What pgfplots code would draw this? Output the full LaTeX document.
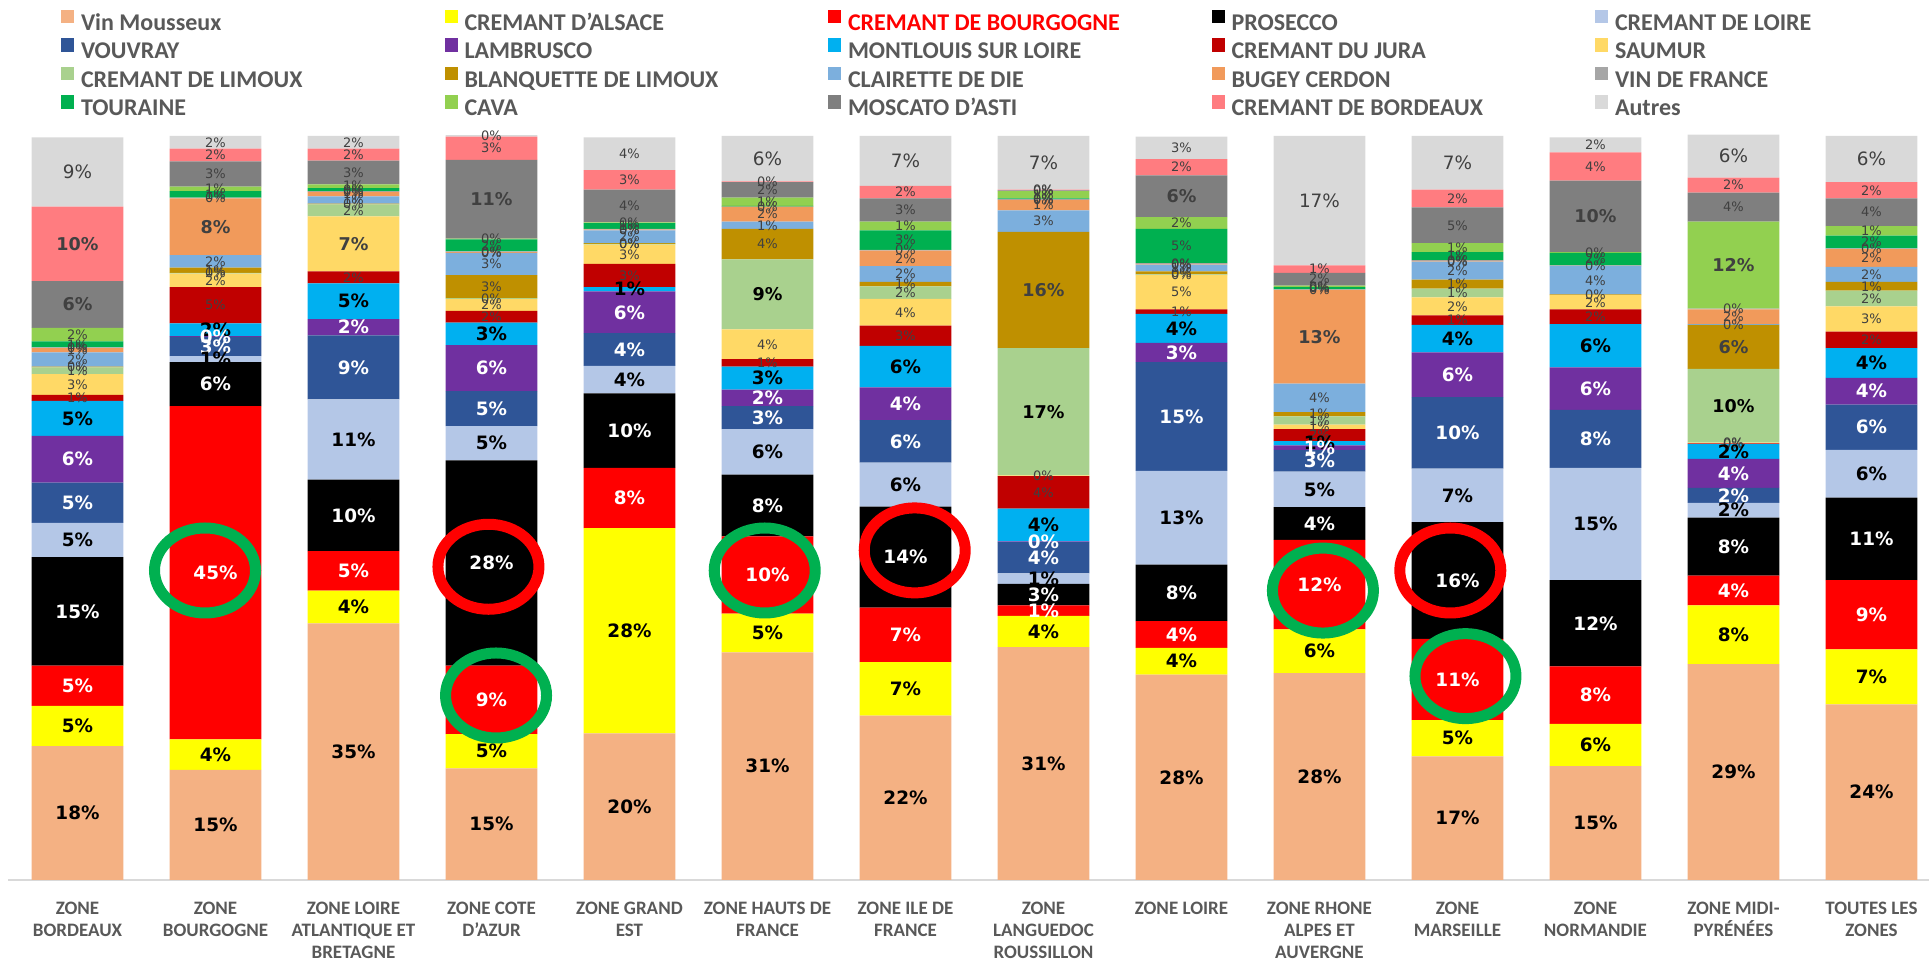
\documentclass[border=0pt]{standalone}
\usepackage{pgfplots}
\pgfplotsset{compat=1.18}
\usepackage{pgfplotstable}
\usepackage{fontspec}
\setmainfont{Carlito}
\newfontfamily\labfont{DejaVu Sans}
\definecolor{cmou}{HTML}{F4B183}
\definecolor{cals}{HTML}{FFFF00}
\definecolor{cbou}{HTML}{FF0000}
\definecolor{cpro}{HTML}{000000}
\definecolor{cloi}{HTML}{B4C7E7}
\definecolor{cvou}{HTML}{2F5597}
\definecolor{clam}{HTML}{7030A0}
\definecolor{cmon}{HTML}{00B0F0}
\definecolor{cjur}{HTML}{C00000}
\definecolor{csau}{HTML}{FFD966}
\definecolor{clim}{HTML}{A9D18E}
\definecolor{cbla}{HTML}{BF9000}
\definecolor{ccla}{HTML}{7CAFDD}
\definecolor{cbug}{HTML}{F19A5B}
\definecolor{cvdf}{HTML}{A6A6A6}
\definecolor{ctou}{HTML}{00B050}
\definecolor{ccav}{HTML}{92D050}
\definecolor{cmos}{HTML}{7F7F7F}
\definecolor{cbor}{HTML}{FF7C80}
\definecolor{caut}{HTML}{D9D9D9}
\definecolor{legtext}{HTML}{595959}
\definecolor{labgray}{HTML}{404040}
\definecolor{ringgreen}{HTML}{00B050}
\definecolor{ringred}{HTML}{FF0000}

\pgfplotstableread{
x mou als bou pro loi vou lam mon jur sau lim bla cla bug vdf tou cav mos bor aut
0 18.0 5.4 5.4 14.6 4.6 5.4 6.3 4.7 0.8 2.8 0.9 0.1 1.9 0.6 0.1 0.8 1.8 6.3 10.0 9.3
1 14.8 4.1 44.8 5.9 0.8 2.6 0.1 1.7 4.9 1.8 0.1 0.7 1.7 7.6 0.1 0.9 0.6 3.4 1.7 1.7
2 34.5 4.4 5.3 9.6 10.8 8.6 2.2 4.8 1.6 7.4 1.6 0.1 1.0 0.6 0.1 0.4 0.5 3.2 1.6 1.7
3 15.0 4.6 9.2 27.6 4.6 4.7 6.2 3.0 1.6 1.6 0.1 3.1 3.0 0.1 0.1 1.6 0.1 10.6 3.1 0.2
4 19.7 27.6 8.1 10.0 3.7 4.4 5.6 0.6 3.1 2.6 0.1 0.1 1.7 0.1 0.1 0.8 0.1 4.4 2.6 4.4
5 30.6 5.2 10.4 8.3 6.1 3.1 2.2 3.1 1.0 4.0 9.4 4.1 1.0 2.0 0.0 0.1 1.1 2.1 0.1 6.1
6 22.1 7.2 7.3 13.6 5.9 5.7 4.4 5.6 2.7 3.6 1.7 0.6 2.1 2.1 0.1 2.6 1.2 3.1 1.7 6.7
7 31.3 4.2 1.4 2.9 1.4 4.2 0.1 4.4 4.4 0.1 17.1 15.6 2.9 1.4 0.1 0.1 1.0 0.1 0.1 7.2
8 27.6 3.6 3.6 7.6 12.6 14.6 2.6 3.9 0.6 4.6 0.1 0.4 0.9 0.1 0.1 4.6 1.6 5.6 2.2 3.0
9 27.8 5.9 12.0 4.4 4.8 2.9 0.6 0.6 1.6 0.6 1.1 0.6 3.8 12.6 0.1 0.3 0.2 1.7 1.0 17.4
10 16.6 4.9 10.9 15.7 7.2 9.6 6.0 3.7 1.3 2.4 1.2 1.2 2.4 0.1 0.1 1.1 1.2 4.8 2.4 7.2
11 15.3 5.7 7.7 11.6 15.1 7.8 5.7 5.8 2.0 1.9 0.0 0.1 3.8 0.0 0.1 1.7 0.1 9.6 3.8 2.0
12 29.0 7.9 4.0 7.8 2.0 2.0 3.9 2.0 0.1 0.1 9.9 5.9 0.1 2.0 0.1 0.0 11.7 3.9 2.0 5.8
13 23.6 7.4 9.3 11.1 6.4 6.1 3.6 4.0 2.2 3.4 2.1 1.2 2.0 2.4 0.1 1.7 1.3 3.7 2.2 6.2
}\data

\newcommand\mainlab{\labfont\bfseries\fontsize{9.2}{10}\selectfont}
\newcommand\biglab{\labfont\bfseries\fontsize{8.8}{10}\selectfont}
\newcommand\bigreg{\labfont\fontsize{9.2}{10}\selectfont}
\newcommand\smalllab{\labfont\fontsize{6.5}{7}\selectfont}
\newcommand\pct[1]{\pgfmathprintnumber[fixed,precision=0,assume math mode=true]{#1}\%}

\pgfplotsset{
  labA/.style={nodes near coords={\ifdim\rawy pt<0.05pt\else\mainlab\color{#1}\pct{\rawy}\fi}},
  labB/.style n args={3}{nodes near coords={\ifdim\rawy pt<0.05pt\else\ifdim\rawy pt<5.5pt\smalllab\color{#1}\else#3\color{#2}\fi\pct{\rawy}\fi}},
}

\newcommand\ser[4]{%
  \addplot[fill=#2, draw=none, #3, legend image code/.code={\fill[#2] (0pt,0.55pt) rectangle (6.65pt,7.25pt);}] table[x=x,y=#1]{\data};
  \addlegendentry{\makebox[181.75pt][l]{#4}}
}

\begin{document}
\begin{tikzpicture}
\useasboundingbox (0,0) rectangle (964.5pt,481.5pt);
\begin{axis}[
  at={(4.25pt,41.5pt)}, anchor=south west,
  scale only axis, width=960.25pt, height=372pt,
  ybar stacked, bar width=45.8pt,
  ymin=0, ymax=100, xmin=-0.5, xmax=13.417,
  enlargelimits=false, clip=false,
  axis x line*=bottom, axis y line=none,
  x axis line style={draw=black!15, line width=1pt, -},
  ytick=\empty,
  xtick={0,...,13},
  major tick length=0pt,
  xticklabels={{ZONE\\BORDEAUX},{ZONE\\BOURGOGNE},{ZONE LOIRE\\ATLANTIQUE ET\\BRETAGNE},{ZONE COTE\\D'AZUR},{ZONE GRAND\\EST},{ZONE HAUTS DE\\FRANCE},{ZONE ILE DE\\FRANCE},{ZONE\\LANGUEDOC\\ROUSSILLON},{ZONE LOIRE},{ZONE RHONE\\ALPES ET\\AUVERGNE},{ZONE\\MARSEILLE},{ZONE\\NORMANDIE},{ZONE MIDI-\\PYRÉNÉES},{TOUTES LES\\ZONES}},
  xticklabel style={font=\fontsize{9.5}{11}\selectfont\bfseries, text=legtext, align=center, anchor=north, inner sep=0pt, yshift=-10.75pt},
  visualization depends on={rawy \as \rawy},
  every node near coord/.append style={anchor=center, inner sep=0pt},
  legend columns=5,
  legend style={at={(0.02734,1.1696)}, anchor=north west, draw=none, fill=none,
    inner sep=0pt, outer sep=0pt, column sep=0pt, row sep=1.0pt,
    nodes={inner sep=0pt, outer sep=0pt, text height=9pt, text depth=3pt},
    font=\fontsize{12}{12}\selectfont\bfseries, text=legtext,
    /tikz/every odd column/.append style={column sep=3.35pt}},
  legend cell align=left,
]
\ser{mou}{cmou}{labA=black}{Vin Mousseux}
\ser{als}{cals}{labA=black}{CREMANT D'ALSACE}
\ser{bou}{cbou}{labA=white}{\color{red}CREMANT DE BOURGOGNE}
\ser{pro}{cpro}{labA=white}{PROSECCO}
\ser{loi}{cloi}{labA=black}{CREMANT DE LOIRE}
\ser{vou}{cvou}{labA=white}{VOUVRAY}
\ser{lam}{clam}{labA=white}{LAMBRUSCO}
\ser{mon}{cmon}{labA=black}{MONTLOUIS SUR LOIRE}
\ser{jur}{cjur}{labB={labgray}{labgray}{\biglab}}{CREMANT DU JURA}
\ser{sau}{csau}{labB={labgray}{labgray}{\biglab}}{SAUMUR}
\ser{lim}{clim}{labB={labgray}{black}{\biglab}}{CREMANT DE LIMOUX}
\ser{bla}{cbla}{labB={labgray}{labgray}{\biglab}}{BLANQUETTE DE LIMOUX}
\ser{cla}{ccla}{labB={labgray}{labgray}{\biglab}}{CLAIRETTE DE DIE}
\ser{bug}{cbug}{labB={labgray}{labgray}{\biglab}}{BUGEY CERDON}
\ser{vdf}{cvdf}{labB={labgray}{labgray}{\biglab}}{VIN DE FRANCE}
\ser{tou}{ctou}{labB={labgray}{labgray}{\biglab}}{TOURAINE}
\ser{cav}{ccav}{labB={labgray}{labgray}{\biglab}}{CAVA}
\ser{mos}{cmos}{labB={labgray}{labgray}{\biglab}}{MOSCATO D'ASTI}
\ser{bor}{cbor}{labB={labgray}{labgray}{\biglab}}{CREMANT DE BORDEAUX}
\ser{aut}{caut}{labB={labgray}{labgray}{\bigreg}}{Autres}
\coordinate (e1) at (axis cs:0.924,41.6);
\coordinate (e2) at (axis cs:2.978,42.1);
\coordinate (e3) at (axis cs:3.033,24.8);
\coordinate (e4) at (axis cs:4.98,41.6);
\coordinate (e5) at (axis cs:6.067,44.3);
\coordinate (e6) at (axis cs:9.025,38.9);
\coordinate (e7) at (axis cs:9.948,41.6);
\coordinate (e8) at (axis cs:10.058,27.4);
\end{axis}
\foreach \e/\c in {e1/ringgreen,e2/ringred,e3/ringgreen,e4/ringgreen,e5/ringred,e6/ringgreen,e7/ringred,e8/ringgreen}
  \draw[\c, line width=5.5pt] (\e) ellipse [x radius=25.25pt, y radius=21.25pt];
\end{tikzpicture}
\end{document}
